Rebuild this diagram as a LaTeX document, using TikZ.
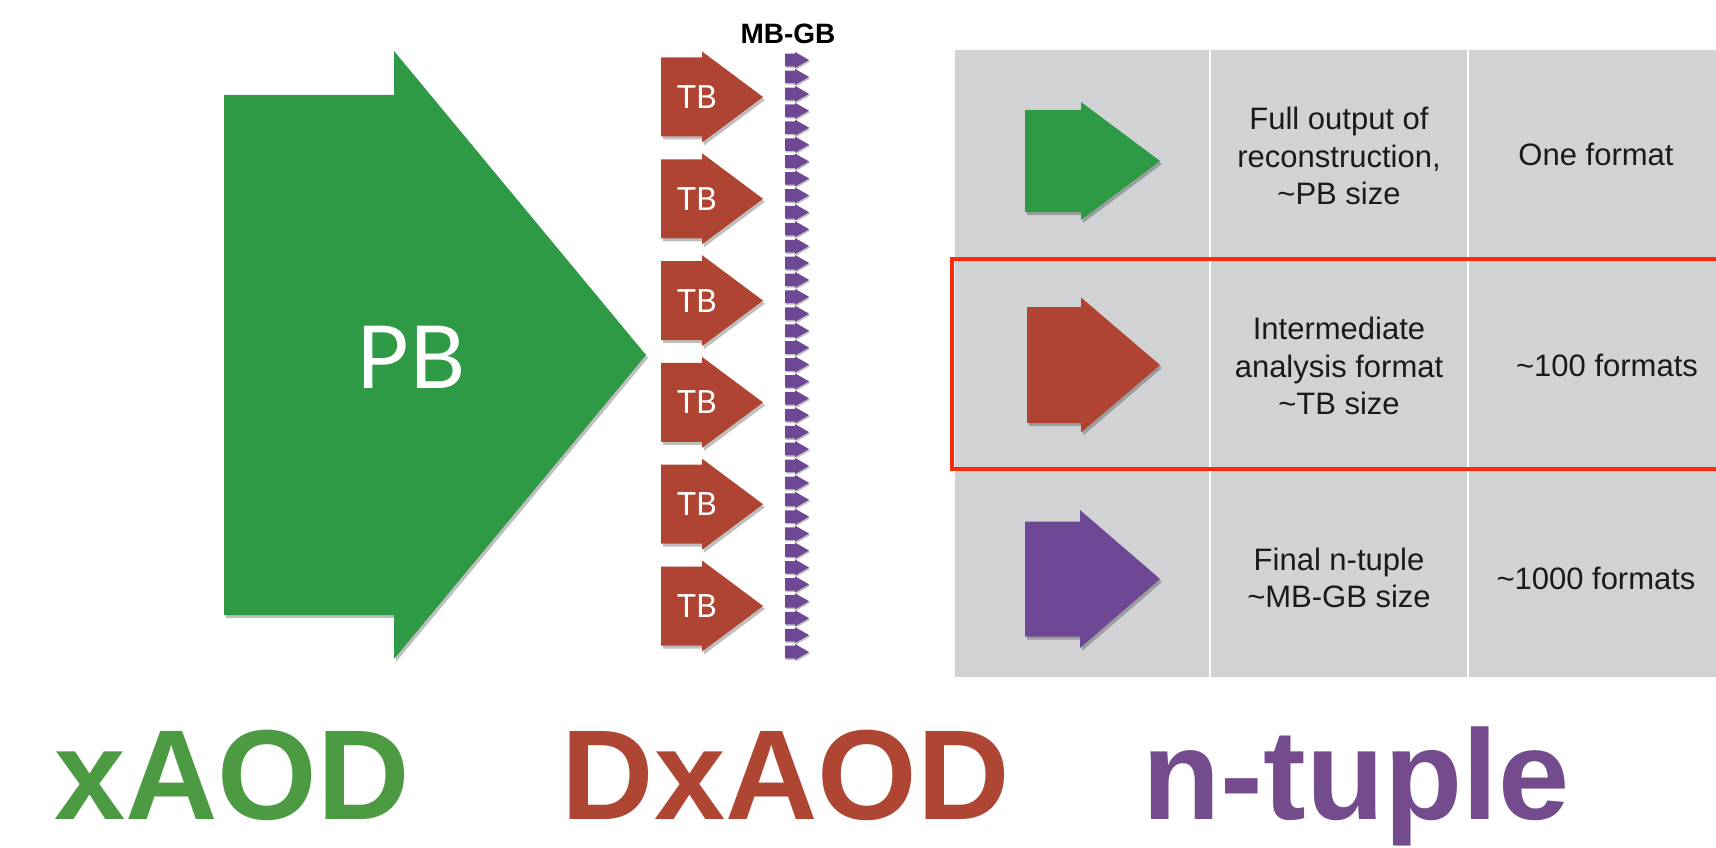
\documentclass[tikz,border=0pt]{standalone}
\usepackage{fontspec}
\setmainfont{Liberation Sans}
\newfontfamily\gillish{Lato}
\usetikzlibrary{shadows}
\definecolor{pbgreen}{RGB}{47,154,69}
\definecolor{tbred}{RGB}{176,68,51}
\definecolor{ntpurple}{RGB}{110,72,148}
\definecolor{txgreen}{RGB}{76,154,66}
\definecolor{txred}{RGB}{174,70,51}
\definecolor{txpurple}{RGB}{116,76,142}
\definecolor{tablegray}{RGB}{209,210,212}
\definecolor{frame}{RGB}{255,42,10}
\definecolor{ink}{RGB}{26,26,26}
% #1 style, #2 x left, #3 x head base, #4 x tip, #5 y centre, #6 body half height, #7 head half height
\newcommand\FatArrow[7]{%
  \path[#1] (#2,#5-#6) -- (#3,#5-#6) -- (#3,#5-#7) -- (#4,#5) -- (#3,#5+#7) -- (#3,#5+#6) -- (#2,#5+#6) -- cycle;}
\tikzset{
  ashadow/.style={drop shadow={shadow xshift=2pt,shadow yshift=-3pt,opacity=0.25,fill=black}},
  greenarrow/.style={fill=pbgreen,ashadow},
  redarrow/.style={fill=tbred,ashadow},
  purplearrow/.style={fill=ntpurple,ashadow},
  smallpurple/.style={fill=ntpurple,drop shadow={shadow xshift=1pt,shadow yshift=-1.5pt,opacity=0.25,fill=black}},
  tbtext/.style={text=white,font=\gillish\fontsize{32}{36}\selectfont},
  pbtext/.style={text=white,font=\gillish\fontsize{87}{96}\selectfont},
  celltext/.style={text=ink,align=center,font=\fontsize{31}{37.5}\selectfont},
  bigword/.style={anchor=base,inner sep=0pt,font=\bfseries\fontsize{128}{136}\selectfont},
  divider/.style={white,line width=1.5pt}
}
\begin{document}
\begin{tikzpicture}[x=1pt,y=-1pt]
\useasboundingbox (0,0) rectangle (1716,848);
\fill[white] (0,0) rectangle (1716,848);

% big PB arrow
\FatArrow{greenarrow}{224}{394}{646}{355}{260}{304}
\node[pbtext] (pb) at (411,357) {PB};

% TB arrows
\foreach \i in {0,...,5}{
  \pgfmathsetmacro\yc{97+\i*101.8}
  \FatArrow{redarrow}{661}{702}{763}{\yc}{39.5}{45.5}
  \node[tbtext] (tb\i) at (697,\yc) {TB};
}

% MB-GB column of small arrows
\foreach \i in {0,...,35}{
  \pgfmathsetmacro\yc{60+\i*16.914}
  \FatArrow{smallpurple}{785}{795}{809}{\yc}{6.3}{8}
}
\node[font=\bfseries\fontsize{28}{32}\selectfont] (mbgb) at (788,34) {MB-GB};

% table
\fill[tablegray] (955,50) rectangle (1730,677);
\draw[divider] (1210,50) -- (1210,677);
\draw[divider] (1468,50) -- (1468,677);
\draw[divider] (955,259) -- (1730,259);
\draw[divider] (955,468) -- (1730,468);

\FatArrow{greenarrow}{1025}{1081}{1160}{161}{51}{59}
\FatArrow{redarrow}{1027}{1081}{1160}{365}{58}{67.5}
\FatArrow{purplearrow}{1025}{1080}{1160}{579}{57.5}{69}

\node[celltext] (c12) at (1339,156) {Full output of\\reconstruction,\\\textasciitilde PB size};
\node[celltext] (c13) at (1596,154) {One format};
\node[celltext] (c22) at (1339,366) {Intermediate\\analysis format\\\textasciitilde TB size};
\node[celltext] (c23) at (1607,365) {\textasciitilde 100 formats};
\node[celltext] (c32) at (1339,578) {Final n-tuple\\\textasciitilde MB-GB size};
\node[celltext] (c33) at (1596,578) {\textasciitilde 1000 formats};

\draw[frame,line width=4pt] (952,259) rectangle (1745,469);

% bottom labels
\node[bigword,text=txgreen] (xaod) at (232,819) {xAOD};
\node[bigword,text=txred] (dxaod) at (786,819) {DxAOD};
\node[bigword,text=txpurple] (ntuple) at (1356,819) {n-tuple};
\end{tikzpicture}
\end{document}
